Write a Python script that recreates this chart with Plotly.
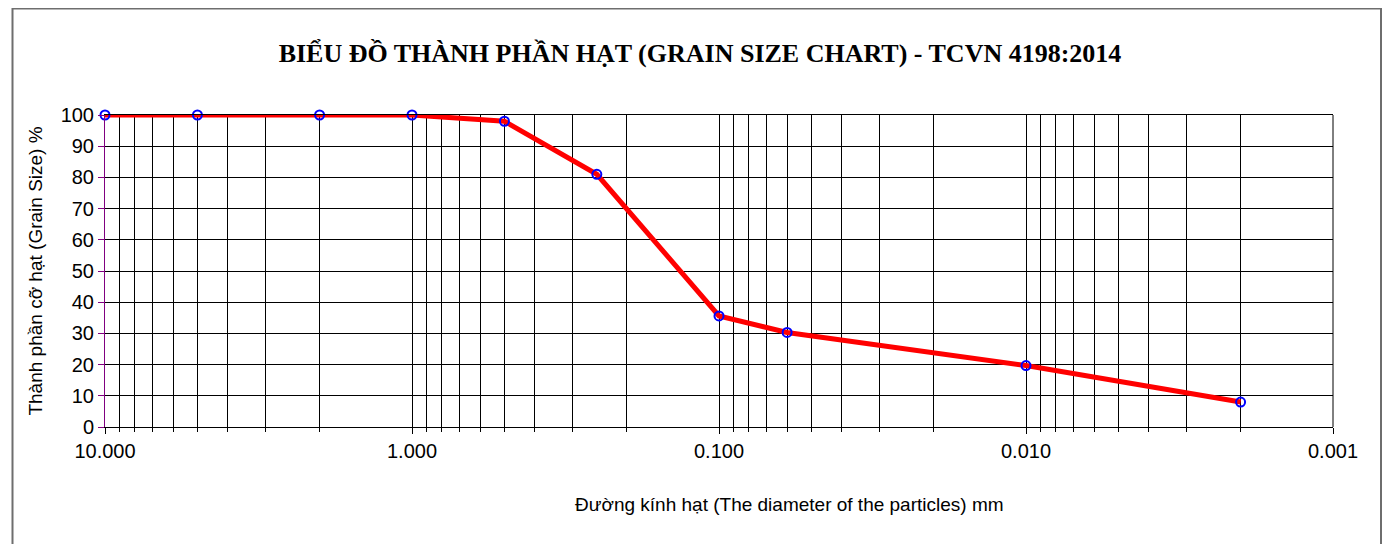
import plotly.graph_objects as go

# Data
diameter_mm = [10, 5, 2, 1, 0.5, 0.25, 0.1, 0.06, 0.01, 0.002]
passing_pct = [100, 100, 100, 100, 98, 81, 35.6, 30.3, 19.7, 8]

decade_vals = [10, 1, 0.1, 0.01, 0.001]
decade_text = ["10.000", "1.000", "0.100", "0.010", "0.001"]
minor_vals = [m * d for d in [1, 0.1, 0.01, 0.001] for m in range(2, 10)]

title_text = "BIỂU ĐỒ THÀNH PHẦN HẠT (GRAIN SIZE CHART) - TCVN 4198:2014"
x_title = "Đường kính hạt (The diameter of the particles) mm"
y_title = "Thành phần cỡ hạt (Grain Size) %"

fig = go.Figure()
fig.add_trace(go.Scatter(
    x=diameter_mm, y=passing_pct, mode="lines+markers",
    line=dict(color="#ff0000", width=5),
    marker=dict(symbol="circle-open", size=9, color="#0000ff", line=dict(width=2, color="#0000ff")),
    showlegend=False, cliponaxis=False,
))

OFF = 8  # page body margin
W, H = 1394 - OFF * 2, 552 - OFF * 2
L, R, T, B = 105 - OFF, 1333 - OFF, 115 - OFF, 427 - OFF

fig.update_layout(
    width=W, height=H,
    margin=dict(l=L, r=W - R, t=T, b=H - B, autoexpand=False),
    paper_bgcolor="white", plot_bgcolor="white",
    title=dict(text=title_text, x=(700 - OFF) / W, xanchor="center", y=1 - (53 - OFF) / H, yanchor="middle",
               font=dict(family="Liberation Serif", size=26, color="black", weight="bold")),
    font=dict(family="Liberation Sans, Arial", color="black"),
)

fig.update_xaxes(
    type="log", range=[1, -3],
    tickmode="array", tickvals=decade_vals, ticktext=decade_text,
    tickfont=dict(family="Liberation Sans", size=20, color="black"),
    ticks="outside", ticklen=6, tickcolor="black",
    showgrid=True, gridcolor="black", gridwidth=1,
    minor=dict(tickmode="array", tickvals=minor_vals, showgrid=True, gridcolor="black", gridwidth=1,
               ticks="outside", ticklen=4, tickcolor="black"),
    showline=True, linecolor="black", linewidth=1, mirror=True,
    zeroline=False,
)
fig.update_yaxes(
    range=[0, 100], dtick=10, tick0=0,
    tickfont=dict(family="Liberation Sans", size=20, color="black"),
    ticks="outside", ticklen=6, tickcolor="#800080",
    showgrid=True, gridcolor="black", gridwidth=1,
    showline=True, linecolor="#800080", linewidth=1, mirror=False,
    zeroline=False,
    title=dict(text=y_title, font=dict(family="Liberation Sans", size=19, color="black"), standoff=12),
)

# x axis title as annotation (offset to the right like the reference)
fig.add_annotation(
    text=x_title, xref="paper", yref="paper",
    x=(789 - OFF - L) / (R - L), y=(B - (504 - OFF)) / (B - T), xanchor="center", yanchor="middle",
    showarrow=False, font=dict(family="Liberation Sans", size=19, color="black"),
)

# right edge of plot area
fig.add_shape(type="line", xref="paper", yref="paper", x0=1, x1=1, y0=0, y1=1,
              line=dict(color="black", width=1))

# outer chart frame
fig.add_shape(type="rect", xref="paper", yref="paper",
              x0=(12.5 - OFF - L) / (R - L), x1=(1381 - OFF - L) / (R - L),
              y0=(B - 570) / (B - T), y1=(B - (8.5 - OFF)) / (B - T),
              line=dict(color="#6e6e6e", width=2), fillcolor="rgba(0,0,0,0)", layer="below")

fig.write_html("out.html")
